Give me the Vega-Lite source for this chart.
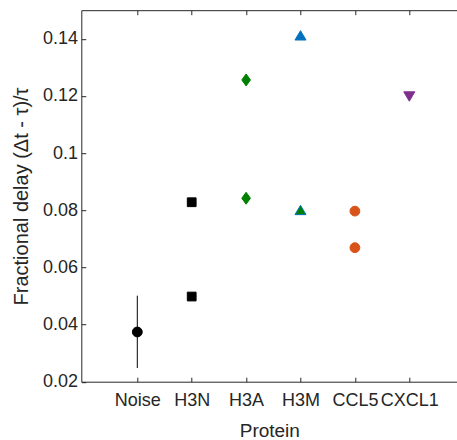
{
  "$schema": "https://vega.github.io/schema/vega-lite/v6.json",
  "width": 376,
  "height": 371.5,
  "autosize": {"type": "none"},
  "padding": {"left": 81.3, "top": 10.2, "right": 0, "bottom": 58.3},
  "config": {
    "view": {"stroke": null},
    "font": "Liberation Sans",
    "axis": {
      "domainColor": "#262626",
      "tickColor": "#262626",
      "labelColor": "#262626",
      "titleColor": "#262626",
      "labelFontSize": 18,
      "titleFontSize": 19,
      "titleFontWeight": "normal",
      "grid": false,
      "domainWidth": 1,
      "tickWidth": 1
    }
  },
  "datasets": {
    "points": [
      {"protein": "Noise", "series": "Noise", "value": 0.0374},
      {"protein": "H3N", "series": "H3N", "value": 0.0828},
      {"protein": "H3N", "series": "H3N", "value": 0.0498},
      {"protein": "H3A", "series": "H3A", "value": 0.1256},
      {"protein": "H3A", "series": "H3A", "value": 0.0842},
      {"protein": "H3M", "series": "H3M", "value": 0.1412},
      {"protein": "H3M", "series": "H3M low", "value": 0.0801},
      {"protein": "CCL5", "series": "CCL5", "value": 0.0797},
      {"protein": "CCL5", "series": "CCL5", "value": 0.0669},
      {"protein": "CXCL1", "series": "CXCL1", "value": 0.1198}
    ],
    "err": [
      {"protein": "Noise", "value": 0.0248, "hi": 0.0501}
    ]
  },
  "layer": [
    {
      "data": {"name": "err"},
      "mark": {"type": "rule", "color": "#000000", "strokeWidth": 1},
      "encoding": {
        "x": {
          "field": "protein", "type": "nominal",
          "scale": {"type": "point", "domain": ["Noise", "H3N", "H3A", "H3M", "CCL5", "CXCL1"], "padding": 0.956, "align": 0.5385},
          "axis": {"orient": "bottom", "title": "Protein", "labelAngle": 0, "tickSize": -4.5, "labelPadding": 14, "titlePadding": 12}
        },
        "y": {
          "field": "value", "type": "quantitative",
          "scale": {"domain": [0.02, 0.15], "nice": false, "zero": false},
          "axis": {"title": "Fractional delay (Δt - τ)/τ", "titleFontSize": 20, "values": [0.02, 0.04, 0.06, 0.08, 0.1, 0.12, 0.14], "format": ".2~f", "tickSize": -4.5, "labelPadding": 8.3, "titlePadding": 10.5}
        },
        "y2": {"field": "hi"}
      }
    },
    {
      "data": {"name": "points"},
      "mark": {"type": "point", "filled": true, "opacity": 1, "size": 144, "strokeWidth": 1},
      "encoding": {
        "x": {
          "field": "protein", "type": "nominal",
          "scale": {"type": "point", "domain": ["Noise", "H3N", "H3A", "H3M", "CCL5", "CXCL1"], "padding": 0.956, "align": 0.5385},
          "axis": {"orient": "top", "title": null, "labels": false, "tickSize": -4.5}
        },
        "y": {
          "field": "value", "type": "quantitative",
          "scale": {"domain": [0.02, 0.15], "nice": false, "zero": false},
          "axis": {"title": "Fractional delay (Δt - τ)/τ", "titleFontSize": 20, "values": [0.02, 0.04, 0.06, 0.08, 0.1, 0.12, 0.14], "format": ".2~f", "tickSize": -4.5, "labelPadding": 8.3, "titlePadding": 10.5}
        },
        "shape": {
          "field": "series", "type": "nominal", "legend": null,
          "scale": {
            "domain": ["Noise", "H3N", "H3A", "H3M", "H3M low", "CCL5", "CXCL1"],
            "range": [
              "M-0.82,0A0.82,0.82 0 1,0 0.82,0A0.82,0.82 0 1,0 -0.82,0Z",
              "M-0.73,-0.73H0.73V0.73H-0.73Z",
              "M0,-1L0.72,0L0,1L-0.72,0Z",
              "M0,-0.78L0.92,0.78L-0.92,0.78Z",
              "M0,-0.78L0.92,0.78L-0.92,0.78Z",
              "M-0.82,0A0.82,0.82 0 1,0 0.82,0A0.82,0.82 0 1,0 -0.82,0Z",
              "M0,0.78L0.92,-0.78L-0.92,-0.78Z"
            ]
          }
        },
        "fill": {
          "field": "series", "type": "nominal", "legend": null,
          "scale": {
            "domain": ["Noise", "H3N", "H3A", "H3M", "H3M low", "CCL5", "CXCL1"],
            "range": ["#000000", "#000000", "#008000", "#0072BD", "#008000", "#D95319", "#7E2F8E"]
          }
        },
        "stroke": {
          "field": "series", "type": "nominal", "legend": null,
          "scale": {
            "domain": ["Noise", "H3N", "H3A", "H3M", "H3M low", "CCL5", "CXCL1"],
            "range": ["#000000", "#000000", "#008000", "#0072BD", "#0072BD", "#D95319", "#7E2F8E"]
          }
        }
      }
    }
  ],
  "resolve": {"axis": {"x": "independent"}}
}
